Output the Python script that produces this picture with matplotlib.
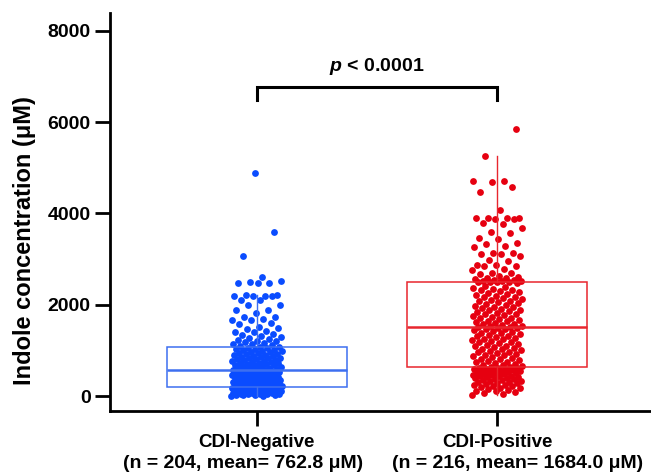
import numpy as np
import matplotlib.pyplot as plt

plt.rcParams['font.family'] = ['Liberation Sans', 'DejaVu Sans']
plt.rcParams['font.weight'] = 'bold'
plt.rcParams['mathtext.fontset'] = 'custom'
plt.rcParams['mathtext.it'] = 'Liberation Sans:italic:bold'
plt.rcParams['mathtext.rm'] = 'Liberation Sans:bold'

groups = ["CDI-Negative", "CDI-Positive"]
subtitles = ["(n = 204, mean= 762.8 \u03bcM)", "(n = 216, mean= 1684.0 \u03bcM)"]

# CDI-negative indole values (uM), estimated from the figure
neg = [
    8, 14, 21, 27, 31, 38, 42, 49, 52, 58, 61, 69, 74, 78, 85, 91, 94, 102,
    106, 113, 118, 121, 129, 133, 136, 142, 147, 149, 155, 159, 162, 164,
    169, 172, 173, 178, 180, 181, 185, 187, 188, 190, 191, 192, 193, 194,
    195, 196, 196, 197, 197,
    201, 208, 213, 219, 226, 231, 238, 246, 251, 257, 264, 271, 277, 282,
    290, 297, 303, 311, 319, 325, 331, 339, 347, 353, 361, 368, 374, 383,
    392, 399, 406, 415, 424, 431, 439, 448, 457, 464, 471, 480, 490, 497,
    504, 514, 523, 531, 538, 548, 557, 563, 569,
    575, 583, 593, 602, 610, 618, 628, 638, 646, 654, 664, 675, 683, 691,
    702, 712, 721, 729, 740, 750, 759, 768, 778, 789, 798, 807, 818, 829,
    838, 847, 858, 869, 879, 888, 899, 911, 920, 930, 941, 953, 962, 972,
    984, 996, 1006, 1016, 1028, 1040, 1050, 1060, 1072,
    1085, 1102, 1118, 1136, 1150, 1167, 1186, 1204, 1221, 1241, 1262, 1280,
    1300, 1323, 1340, 1368, 1410, 1415, 1440, 1483, 1490, 1520, 1593, 1600,
    1665, 1670, 1690, 1738, 1745, 1820, 1885, 1890, 1994, 2000, 2104, 2110,
    2190, 2195, 2200, 2205, 2210, 2215,
    2470, 2480, 2490, 2500, 2520, 2615, 3080, 3590, 4890,
]

# CDI-positive indole values (uM), estimated from the figure
pos = [
    25, 48, 71, 92, 110, 127, 146, 161, 175, 189, 204, 219, 232, 245, 258,
    271, 283, 295, 308, 321, 331, 342, 353, 365, 377, 386, 396, 407, 416,
    425, 436, 447, 455, 463, 474, 484, 492, 500, 510, 520, 528, 536, 546,
    555, 563, 570, 579, 589, 596, 603, 612, 621, 627, 633,
    641, 661, 678, 694, 712, 729, 745, 761, 778, 796, 812, 827, 845, 863,
    878, 894, 912, 929, 945, 961, 978, 996, 1012, 1027, 1045, 1063, 1078,
    1094, 1112, 1129, 1145, 1161, 1178, 1196, 1212, 1227, 1245, 1263, 1278,
    1294, 1312, 1329, 1345, 1361, 1378, 1396, 1412, 1427, 1445, 1463, 1478,
    1490, 1500, 1508,
    1518, 1531, 1545, 1560, 1574, 1591, 1607, 1621, 1640, 1656, 1672, 1689,
    1706, 1723, 1740, 1756, 1775, 1791, 1808, 1825, 1843, 1861, 1878, 1894,
    1912, 1931, 1948, 1965, 1984, 2003, 2020, 2037, 2056, 2076, 2093, 2111,
    2130, 2149, 2167, 2184, 2204, 2223, 2241, 2259, 2278, 2298, 2316, 2334,
    2354, 2374, 2392, 2413, 2485, 2492,
    2500, 2505, 2510, 2515, 2520, 2530, 2540, 2550, 2570, 2580, 2590, 2600,
    2640, 2680, 2690, 2700, 2760, 2780, 2850, 2860, 2870, 2880, 2950, 2990,
    3060, 3110, 3120, 3125, 3130, 3270, 3280, 3340, 3350, 3450, 3460, 3570,
    3590, 3680, 3780, 3800, 3880, 3890, 3895, 3900, 3905, 3910, 4080, 4480,
    4590, 4680, 4710, 4720, 5260, 5850,
]

ticks = [0, 2000, 4000, 6000, 8000]

pt_colors = ['#0a4cff', '#e60010']
box_colors = ['#3d6ff0', '#e8262e']

fig = plt.figure(figsize=(6.51, 4.74), dpi=100)
ax = fig.add_axes([0.169, 0.132, 0.831, 0.840])

for i, vals in enumerate([neg, pos]):
    n = len(vals)
    # deterministic jitter spread
    offs = ((np.arange(n) * 0.6180339887) % 1.0 - 0.5) * 0.21
    ax.scatter(i + offs, vals, s=24, color=pt_colors[i], linewidths=0, zorder=2)
    ax.boxplot([vals], positions=[i], widths=0.75, showfliers=False,
               patch_artist=True, showcaps=False,
               boxprops=dict(facecolor='none', edgecolor=box_colors[i], linewidth=1.1),
               medianprops=dict(color=box_colors[i], linewidth=1.8),
               whiskerprops=dict(color=box_colors[i], linewidth=1.0),
               zorder=3)

# significance bracket
ax.plot([0, 0, 1, 1], [6480, 6770, 6770, 6480], color='black', lw=2.2,
        solid_joinstyle='miter', clip_on=False)
ax.text(0.5, 6990, '$p$ < 0.0001', ha='center', va='bottom',
        fontsize=14, fontweight='bold')

ax.set_xlim(-0.61, 1.64)
ax.set_ylim(-330, 8380)
ax.set_xticks([0, 1])
ax.set_xticklabels(groups, fontsize=13.5, fontweight='bold')
# second line of each category label, slightly spread apart as in the figure
for i, sub in enumerate(subtitles):
    ax.annotate(sub, xy=(i, 0), xycoords=('data', 'axes fraction'),
                xytext=(-14 + 34 * i, -52), textcoords='offset pixels',
                ha='center', va='center', fontsize=14, fontweight='bold',
                annotation_clip=False)
ax.set_yticks(ticks)
ax.set_yticklabels([str(t) for t in ticks], fontsize=14, fontweight='bold')
ax.set_ylabel('Indole concentration (\u03bcM)', fontsize=17, fontweight='bold')
ax.yaxis.set_label_coords(-0.137, 0.43)

for side in ['top', 'right']:
    ax.spines[side].set_visible(False)
for side in ['left', 'bottom']:
    ax.spines[side].set_linewidth(2.0)
ax.tick_params(axis='both', width=2.0, length=11, pad=3)
ax.tick_params(axis='x', pad=5)

fig.savefig('out.png', dpi=100)
